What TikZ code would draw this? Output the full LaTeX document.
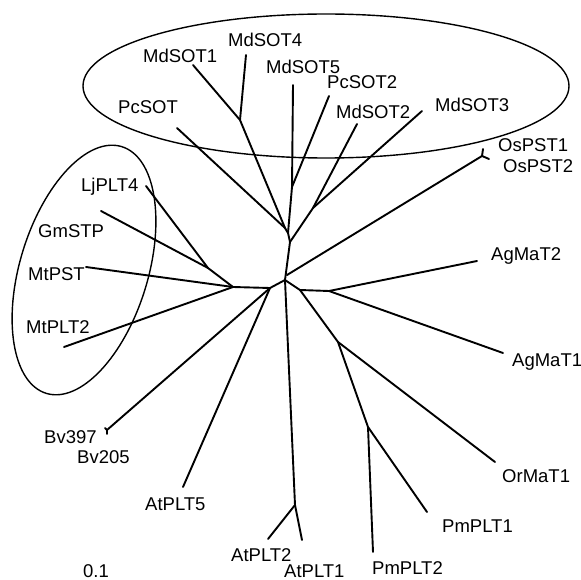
\documentclass[tikz,border=0pt]{standalone}
\usepackage{fontspec}
\setmainfont{Liberation Sans}
\begin{document}
\begin{tikzpicture}[x=1pt,y=-1pt,
  br/.style={line width=1.9pt, line cap=round, line join=round},
  ell/.style={line width=1.4pt},
  lab/.style={anchor=base west, inner sep=0pt, font=\fontsize{18.5}{20}\selectfont}]
\useasboundingbox (0,0) rectangle (581,580);
% ellipses
\draw[ell] (326,86) ellipse [x radius=243pt, y radius=72pt];
\draw[ell] (84,270) ellipse [x radius=64pt, y radius=129pt, rotate=-17];
% internal nodes
\coordinate (n0) at (285,280);
\coordinate (nOsb) at (287,275);
\coordinate (nSOT) at (290,242);
\coordinate (nS4) at (288,233);
\coordinate (nS2) at (285,228);
\coordinate (nS1) at (240,120);
\coordinate (nS3) at (292,187);
\coordinate (nS5) at (313,208);
\coordinate (nOs) at (482,156);
\coordinate (nL) at (270,288);
\coordinate (nLL) at (233,287);
\coordinate (nLG) at (208,268);
\coordinate (nAt) at (295,505);
\coordinate (nR) at (300,290);
\coordinate (nAg) at (329,291);
\coordinate (nOr) at (338,342);
\coordinate (nPm) at (368,427);
\coordinate (nBv) at (107,430);
% leaves
\coordinate (lMdSOT1) at (193,65);
\coordinate (lMdSOT4) at (246,55);
\coordinate (lPcSOT) at (177,128);
\coordinate (lMdSOT5) at (293,85);
\coordinate (lPcSOT2) at (329,96);
\coordinate (lMdSOT2) at (357,124);
\coordinate (lMdSOT3) at (422,111);
\coordinate (lOsPST1) at (483,149);
\coordinate (lOsPST2) at (489,159);
\coordinate (lAgMaT2) at (477,261);
\coordinate (lAgMaT1) at (503,353);
\coordinate (lOrMaT1) at (495,462);
\coordinate (lPmPLT1) at (427,512);
\coordinate (lPmPLT2) at (373,552);
\coordinate (lAtPLT1) at (302,540);
\coordinate (lAtPLT2) at (268,539);
\coordinate (lAtPLT5) at (183,487);
\coordinate (lBv397) at (105,428);
\coordinate (lBv205) at (107,434);
\coordinate (lMtPLT2) at (64,347);
\coordinate (lMtPST) at (86,267);
\coordinate (lGmSTP) at (101,211);
\coordinate (lLjPLT4) at (146,186);
% branches
\draw[br] (n0) -- (nSOT);
\draw[br] (nSOT) -- (nS4) -- (nS2) -- (nS1) -- (lMdSOT1);
\draw[br] (nS1) -- (lMdSOT4);
\draw[br] (nS2) -- (lPcSOT);
\draw[br] (nS4) -- (nS3) -- (lMdSOT5);
\draw[br] (nS3) -- (lPcSOT2);
\draw[br] (nSOT) -- (nS5) -- (lMdSOT2);
\draw[br] (nS5) -- (lMdSOT3);
\draw[br] (nOsb) -- (nOs) -- (lOsPST1);
\draw[br] (nOs) -- (lOsPST2);
\draw[br] (n0) -- (nL) -- (nLL) -- (nLG) -- (lLjPLT4);
\draw[br] (nLG) -- (lGmSTP);
\draw[br] (nLL) -- (lMtPST);
\draw[br] (nLL) -- (lMtPLT2);
\draw[br] (nL) -- (nBv) -- (lBv397);
\draw[br] (nBv) -- (lBv205);
\draw[br] (nL) -- (lAtPLT5);
\draw[br] (n0) -- (nAt) -- (lAtPLT1);
\draw[br] (nAt) -- (lAtPLT2);
\draw[br] (n0) -- (nR) -- (nAg) -- (lAgMaT2);
\draw[br] (nAg) -- (lAgMaT1);
\draw[br] (nR) -- (nOr) -- (lOrMaT1);
\draw[br] (nOr) -- (nPm) -- (lPmPLT1);
\draw[br] (nPm) -- (lPmPLT2);
% labels
\node[lab] (tMdSOT1) at (143,63) {MdSOT1};
\node[lab] (tMdSOT4) at (228,47) {MdSOT4};
\node[lab] (tMdSOT5) at (266,74) {MdSOT5};
\node[lab] (tPcSOT2) at (327,89) {PcSOT2};
\node[lab] (tMdSOT2) at (336,119) {MdSOT2};
\node[lab] (tMdSOT3) at (435,112) {MdSOT3};
\node[lab] (tPcSOT) at (118,114) {PcSOT};
\node[lab] (tOsPST1) at (498,152) {OsPST1};
\node[lab] (tOsPST2) at (503,173) {OsPST2};
\node[lab] (tAgMaT2) at (491,261) {AgMaT2};
\node[lab] (tAgMaT1) at (512,366) {AgMaT1};
\node[lab] (tOrMaT1) at (502,482) {OrMaT1};
\node[lab] (tPmPLT1) at (442,532) {PmPLT1};
\node[lab] (tPmPLT2) at (372,574) {PmPLT2};
\node[lab] (tAtPLT1) at (284,577) {AtPLT1};
\node[lab] (tAtPLT2) at (231,561) {AtPLT2};
\node[lab] (tAtPLT5) at (145,510) {AtPLT5};
\node[lab] (tBv205) at (77,463) {Bv205};
\node[lab] (tBv397) at (44,443) {Bv397};
\node[lab] (tMtPLT2) at (26,333) {MtPLT2};
\node[lab] (tMtPST) at (28,280) {MtPST};
\node[lab] (tGmSTP) at (38,238) {GmSTP};
\node[lab] (tLjPLT4) at (81,192) {LjPLT4};
\node[lab] (tscale) at (83,577) {0.1};
\end{tikzpicture}
\end{document}
